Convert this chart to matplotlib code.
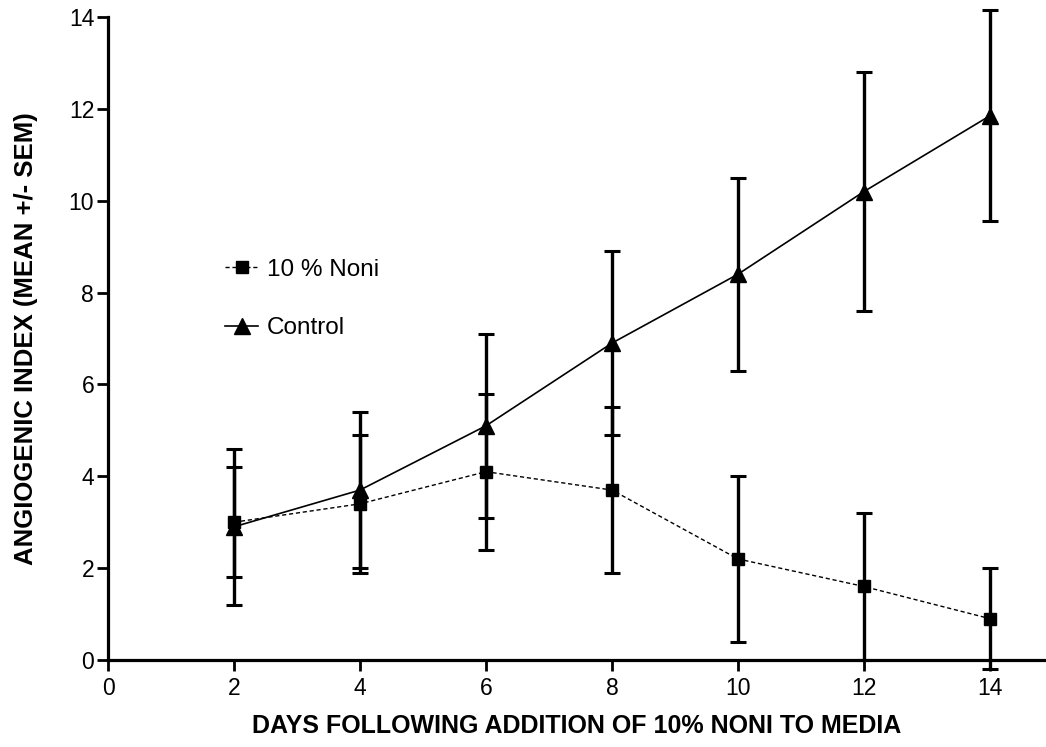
import matplotlib
matplotlib.use("Agg")
import matplotlib.pyplot as plt

days = [2, 4, 6, 8, 10, 12, 14]
noni_mean = [3.0, 3.4, 4.1, 3.7, 2.2, 1.6, 0.9]
noni_sem = [1.2, 1.5, 1.7, 1.8, 1.8, 1.6, 1.1]
control_mean = [2.9, 3.7, 5.1, 6.9, 8.4, 10.2, 11.85]
control_sem = [1.7, 1.7, 2.0, 2.0, 2.1, 2.6, 2.3]

xticks = [0, 2, 4, 6, 8, 10, 12, 14]
yticks = [0, 2, 4, 6, 8, 10, 12, 14]

plt.rcParams['font.family'] = ['Liberation Sans', 'DejaVu Sans']

fig = plt.figure(figsize=(10.46, 7.47), dpi=100)
ax = fig.add_axes([0.1033, 0.1165, 0.8967, 0.8607])

# error bars first, then lines + markers on top
for m, s in [(noni_mean, noni_sem), (control_mean, control_sem)]:
    eb = ax.errorbar(days, m, yerr=s, fmt='none', ecolor='black', elinewidth=2.4,
                     capsize=5.8, capthick=2.2)
    for art in list(eb.lines[1]) + list(eb.lines[2]):
        art.set_clip_on(False)

ax.plot(days, noni_mean, color='black', linestyle=(0, (3, 2)), linewidth=1.0,
        marker='s', markersize=9, label='10 % Noni', clip_on=False)
ax.plot(days, control_mean, color='black', linestyle='-', linewidth=1.2,
        marker='^', markersize=11.5, label='Control', clip_on=False)

ax.set_xlim(0, 14.89)
ax.set_ylim(0, 14)
ax.set_xticks(xticks)
ax.set_yticks(yticks)
ax.tick_params(axis='both', direction='out', length=8, width=2, labelsize=16.5)
ax.tick_params(axis='x', pad=4)
ax.tick_params(axis='y', pad=2)

for side in ['top', 'right']:
    ax.spines[side].set_visible(False)
for side in ['left', 'bottom']:
    ax.spines[side].set_linewidth(2.3)

ax.set_xlabel('DAYS FOLLOWING ADDITION OF 10% NONI TO MEDIA', fontsize=18,
              fontweight='bold', labelpad=10)
ax.set_ylabel('ANGIOGENIC INDEX (MEAN +/- SEM)', fontsize=18.5,
              fontweight='bold', labelpad=22)

ax.legend(loc='upper left', bbox_to_anchor=(0.1247, 0.624), frameon=False,
          fontsize=17.5, handlelength=1.36, handletextpad=0.37, labelspacing=1.5,
          borderpad=0, borderaxespad=0)

fig.savefig('out.png', dpi=100)
